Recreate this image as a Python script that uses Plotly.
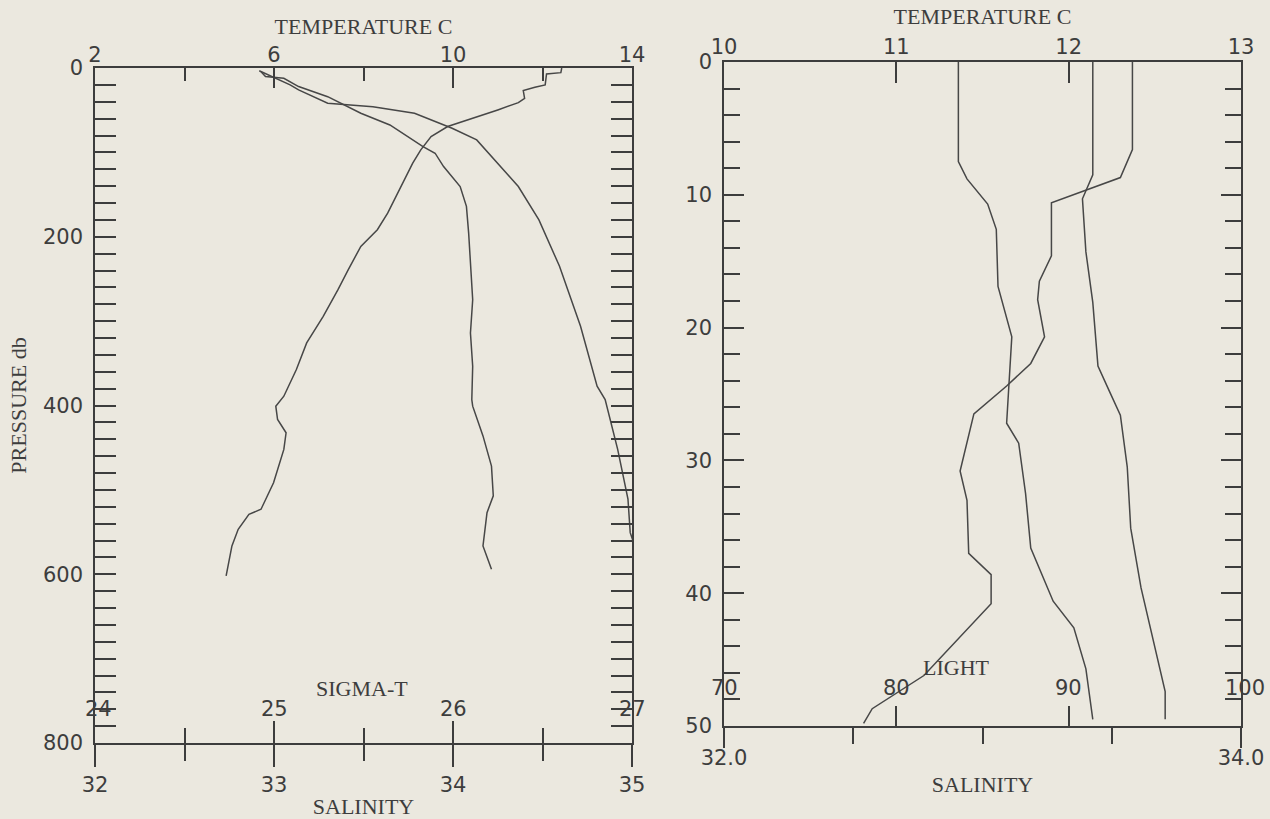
import plotly.graph_objects as go

# ---------------- data ----------------
# Left panel: pressure (db) vs temperature-scale profiles
left_a_temp = [12.43, 12.41, 12.09, 12.06, 11.83, 11.57, 11.6, 11.46, 11.0, 10.53, 9.88, 9.51, 9.28,
               9.1, 8.95, 8.77, 8.54, 8.31, 7.94, 7.66, 7.43, 7.1, 6.73, 6.5, 6.22, 6.04, 6.08, 6.27,
               6.22, 5.99, 5.71, 5.44, 5.2, 5.06, 4.93]
left_a_pres = [0, 5.5, 7.1, 20, 22.9, 26.8, 35.9, 41, 49.7, 57.6, 69.4, 81.3, 97,
               112.8, 128.6, 148.3, 172, 191.7, 211.4, 239, 262.7, 294.3, 325.8, 357.4, 389, 400.8, 416.6, 432.3,
               452, 491.5, 523, 529, 546.7, 566.5, 602]

left_b_temp = [5.71, 5.81, 6.22, 6.55, 7.2, 7.94, 8.59, 9.0, 9.33, 9.6, 9.79, 10.16, 10.3, 10.35,
               10.39, 10.44, 10.39, 10.44, 10.42, 10.44, 10.67, 10.86, 10.9, 10.76, 10.67, 10.86]
left_b_pres = [4.3, 10.2, 12.2, 22, 34, 53.6, 67.5, 81.3, 93.1, 101, 116.8, 140.5, 164, 195.7,
               235, 274.6, 314, 353.5, 393, 400.8, 436, 471.8, 507, 527, 566.5, 594]

left_c_temp = [5.67, 5.99, 6.36, 6.55, 7.2, 8.21, 9.14, 9.98, 10.53, 11.46, 11.92, 12.38, 12.85,
               13.22, 13.4, 13.68, 13.91, 13.96, 14.19]
left_c_pres = [3.2, 11, 20, 26, 41.8, 45.8, 53.6, 71.4, 85.2, 140.5, 180, 235, 306,
               377, 393, 452, 511, 550.7, 586]

# Right panel: depth vs temperature-scale profiles
right_a_temp = [11.36, 11.36, 11.41, 11.53, 11.58, 11.59, 11.67, 11.65, 11.64, 11.71, 11.75, 11.78,
                11.91, 12.03, 12.1, 12.14]
right_a_depth = [0, 7.5, 8.8, 10.7, 12.6, 16.9, 20.7, 24.5, 27.2, 28.7, 32.5, 36.6,
                 40.6, 42.6, 45.7, 49.5]

right_b_temp = [12.37, 12.37, 12.3, 11.9, 11.9, 11.83, 11.82, 11.86, 11.78, 11.64, 11.45, 11.37,
                11.41, 11.42, 11.55, 11.55, 11.16, 10.86, 10.81]
right_b_depth = [0, 6.6, 8.7, 10.6, 14.6, 16.5, 17.9, 20.7, 22.7, 24.4, 26.5, 30.8,
                 33, 37, 38.6, 40.8, 46.2, 48.7, 49.8]

right_c_temp = [12.14, 12.14, 12.08, 12.1, 12.14, 12.17, 12.24, 12.3, 12.34, 12.36, 12.42, 12.56, 12.56]
right_c_depth = [0, 8.5, 10.3, 14.3, 18.1, 22.9, 24.9, 26.6, 30.5, 35.1, 39.6, 47.4, 49.5]

# tick values / labels
left_temp_ticks = [2, 6, 10, 14]
left_temp_minor = [4, 8, 12]
left_pres_ticks = [0, 200, 400, 600, 800]
left_sal_ticks = [32, 33, 34, 35]
left_sal_minor = [32.5, 33.5, 34.5]
left_sig_ticks = [24, 25, 26, 27]
left_sig_minor = [24.5, 25.5, 26.5]

right_temp_ticks = [10, 11, 12, 13]
right_depth_ticks = [0, 10, 20, 30, 40, 50]
right_sal_ticks = [32.0, 34.0]
right_sal_labels = ["32.0", "34.0"]
right_sal_minor = [32.5, 33.0, 33.5]
right_light_ticks = [70, 80, 90, 100]

# ---------------- style ----------------
BG = "#ebe8df"
INK = "#3d3d3d"
LINE = "#474747"
SANS = "DejaVu Sans"
SERIF = "Liberation Serif"
W, H = 1270, 819


def px_x(p):
    return p / W


def px_y(p):
    return 1 - p / H


L_DOM_X = [px_x(95), px_x(632)]
L_DOM_Y = [px_y(743), px_y(68)]
R_DOM_X = [px_x(724), px_x(1241)]
R_DOM_Y = [px_y(726), px_y(62)]

tickfont = dict(family=SANS, size=21, color=INK)
titlefont = dict(family=SERIF, size=22, color=INK)

fig = go.Figure()

line_style = dict(color=LINE, width=1.5)
for xs, ys in [(left_a_temp, left_a_pres), (left_b_temp, left_b_pres), (left_c_temp, left_c_pres)]:
    fig.add_trace(go.Scatter(x=xs, y=ys, mode="lines", line=line_style, xaxis="x", yaxis="y",
                             showlegend=False, hoverinfo="skip"))
for xs, ys in [(right_a_temp, right_a_depth), (right_b_temp, right_b_depth), (right_c_temp, right_c_depth)]:
    fig.add_trace(go.Scatter(x=xs, y=ys, mode="lines", line=line_style, xaxis="x4", yaxis="y2",
                             showlegend=False, hoverinfo="skip"))
# empty traces so overlay axes are drawn
for xa, ya in [("x2", "y"), ("x3", "y"), ("x5", "y2"), ("x6", "y2")]:
    fig.add_trace(go.Scatter(x=[], y=[], xaxis=xa, yaxis=ya, showlegend=False))

common = dict(showgrid=False, zeroline=False, linecolor=INK, linewidth=1.6, tickcolor=INK,
              tickwidth=1.6, tickfont=tickfont, fixedrange=True)

annotations = [
    dict(text="SIGMA-T", x=px_x(362), y=px_y(688), xref="paper", yref="paper",
         xanchor="center", yanchor="middle", showarrow=False, font=titlefont),
    dict(text="LIGHT", x=px_x(956), y=px_y(667), xref="paper", yref="paper",
         xanchor="center", yanchor="middle", showarrow=False, font=titlefont),
]
# sigma-t tick labels (above the salinity line)
for v in left_sig_ticks:
    annotations.append(dict(text=str(v), x=v, xref="x3", y=px_y(709), yref="paper",
                            xanchor="center", yanchor="middle",
                            showarrow=False, font=tickfont, xshift=3 if v == 24 else 0))
# light tick labels (above the salinity line)
for v in right_light_ticks:
    annotations.append(dict(text=str(v), x=v, xref="x6", y=px_y(688), yref="paper",
                            xanchor="center", yanchor="middle",
                            showarrow=False, font=tickfont, xshift=4 if v == 100 else 0))

fig.update_layout(
    width=W, height=H,
    margin=dict(l=0, r=0, t=0, b=0, autoexpand=False),
    paper_bgcolor=BG, plot_bgcolor=BG,
    # ---- left panel ----
    xaxis=dict(common, domain=L_DOM_X, anchor="y", side="top", range=[2, 14],
               tickmode="array", tickvals=left_temp_ticks, ticks="inside", ticklen=20,
               ticklabelstandoff=-4,
               minor=dict(tickvals=left_temp_minor, ticks="inside", ticklen=13, tickcolor=INK, tickwidth=1.6),
               showline=True, mirror=False,
               title=dict(text="TEMPERATURE C", font=titlefont, standoff=2)),
    xaxis2=dict(common, overlaying="x", anchor="y", side="bottom", range=[32, 35],
                tickmode="array", tickvals=left_sal_ticks, ticks="outside", ticklen=22,
                minor=dict(tickvals=left_sal_minor, ticks="outside", ticklen=16, tickcolor=INK, tickwidth=1.6),
                showline=True,
                title=dict(text="SALINITY", font=titlefont, standoff=4)),
    xaxis3=dict(common, overlaying="x", anchor="y", side="bottom", range=[24, 27],
                tickmode="array", tickvals=left_sig_ticks, ticks="inside", ticklen=22,
                showticklabels=False,
                minor=dict(tickvals=left_sig_minor, ticks="inside", ticklen=15, tickcolor=INK, tickwidth=1.6),
                showline=False),
    yaxis=dict(common, domain=L_DOM_Y, anchor="x", range=[800, 0],
               tickmode="array", tickvals=left_pres_ticks, ticks="inside", ticklen=21,
               ticklabelstandoff=6,
               minor=dict(dtick=20, ticks="inside", ticklen=21, tickcolor=INK, tickwidth=1.6),
               showline=True, mirror="ticks",
               title=dict(text="PRESSURE db", font=titlefont, standoff=10)),
    # ---- right panel ----
    xaxis4=dict(common, domain=R_DOM_X, anchor="y2", side="top", range=[10, 13],
                tickmode="array", tickvals=right_temp_ticks, ticks="inside", ticklen=21,
                ticklabelstandoff=-2,
                showline=True, mirror=False,
                title=dict(text="TEMPERATURE C", font=titlefont, standoff=4)),
    xaxis5=dict(common, overlaying="x4", anchor="y2", side="bottom", range=[32, 34],
                tickmode="array", tickvals=right_sal_ticks, ticktext=right_sal_labels,
                ticks="outside", ticklen=20, ticklabelstandoff=-8,
                minor=dict(tickvals=right_sal_minor, ticks="outside", ticklen=16, tickcolor=INK, tickwidth=1.6),
                showline=True,
                title=dict(text="SALINITY", font=titlefont, standoff=8)),
    xaxis6=dict(common, overlaying="x4", anchor="y2", side="bottom", range=[70, 100],
                tickmode="array", tickvals=right_light_ticks, ticks="inside", ticklen=20,
                showticklabels=False, showline=False),
    yaxis2=dict(common, domain=R_DOM_Y, anchor="x4", range=[50, 0],
                tickmode="array", tickvals=right_depth_ticks, ticks="inside", ticklen=20,
                ticklabelstandoff=6,
                minor=dict(dtick=2, ticks="inside", ticklen=16, tickcolor=INK, tickwidth=1.6),
                showline=True, mirror="ticks"),
    annotations=annotations,
)

fig.write_html("out.html", config={"displayModeBar": False},
               post_script="document.body.style.margin='0px';")
